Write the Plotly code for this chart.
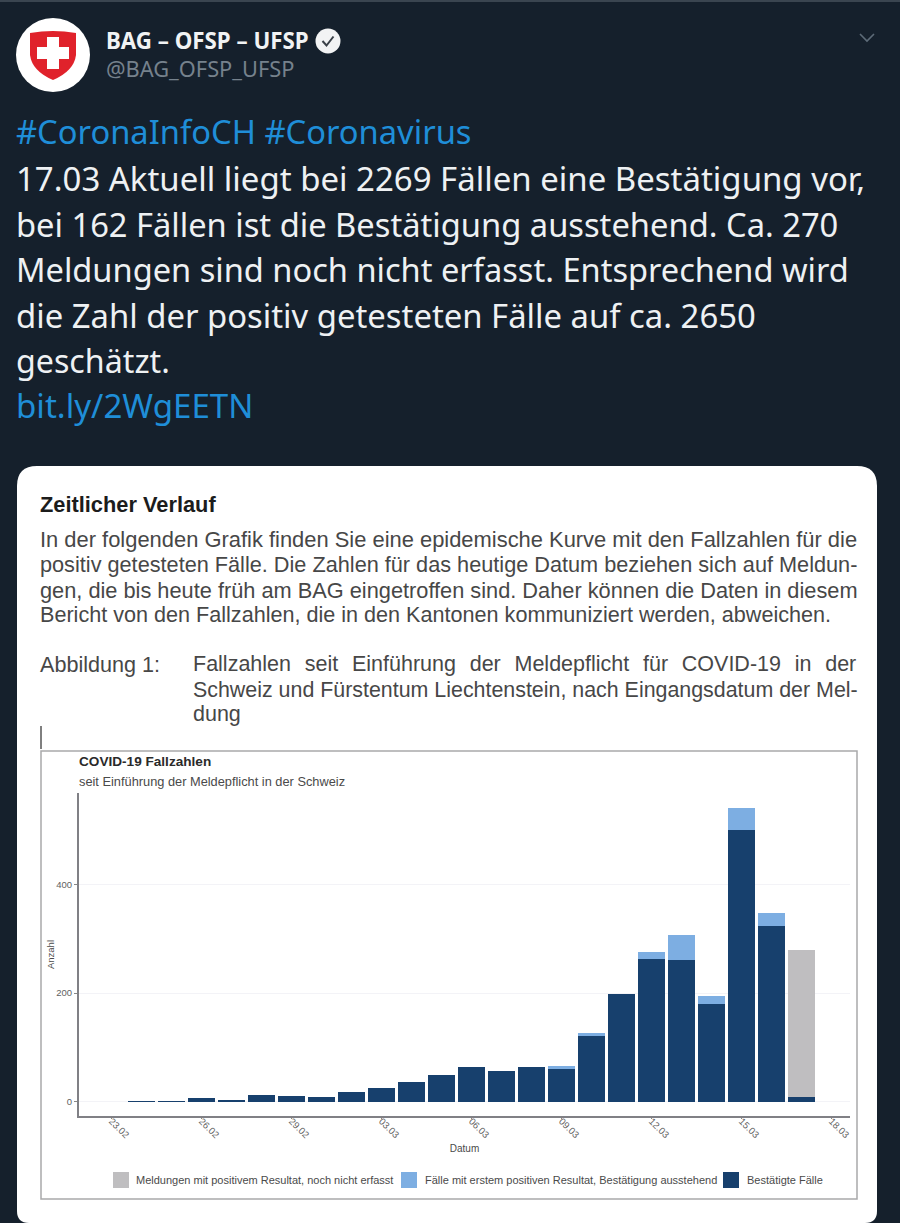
import plotly.graph_objects as go

W, H = 900, 1223

dates = ["2020-02-24","2020-02-25","2020-02-26","2020-02-27","2020-02-28","2020-02-29",
         "2020-03-01","2020-03-02","2020-03-03","2020-03-04","2020-03-05","2020-03-06",
         "2020-03-07","2020-03-08","2020-03-09","2020-03-10","2020-03-11","2020-03-12",
         "2020-03-13","2020-03-14","2020-03-15","2020-03-16","2020-03-17"]
confirmed = [1,1,6,4,13,11,8,17,26,36,49,64,57,63,60,120,198,263,261,179,500,323,9]
pending   = [0,0,0,0,0,0,0,0,0,0,0,0,0,0,6,6,0,12,46,16,40,25,0]
unrecorded= [0,0,0,0,0,0,0,0,0,0,0,0,0,0,0,0,0,0,0,0,0,0,270]
series_names = ["Bestätigte Fälle",
                "Fälle mit erstem positiven Resultat, Bestätigung ausstehend",
                "Meldungen mit positivem Resultat, noch nicht erfasst"]
y_ticks = [0, 200, 400]

tweet_lines = ["17.03 Aktuell liegt bei 2269 Fällen eine Bestätigung vor,",
               "bei 162 Fällen ist die Bestätigung ausstehend. Ca. 270",
               "Meldungen sind noch nicht erfasst. Entsprechend wird",
               "die Zahl der positiv getesteten Fälle auf ca. 2650",
               "geschätzt."]
body_lines = ["In der folgenden Grafik finden Sie eine epidemische Kurve mit den Fallzahlen für die",
              "positiv getesteten Fälle. Die Zahlen für das heutige Datum beziehen sich auf Meldun-",
              "gen, die bis heute früh am BAG eingetroffen sind. Daher können die Daten in diesem",
              "Bericht von den Fallzahlen, die in den Kantonen kommuniziert werden, abweichen."]
caption_lines = ["Fallzahlen  \u200aseit  \u200aEinführung  \u200ader  \u200aMeldepflicht  \u200afür  \u200aCOVID-19  \u200ain  \u200ader",
                 "Schweiz und Fürstentum Liechtenstein, nach Eingangsdatum der Mel-",
                 "dung"]

def X(x): return x / W
def Y(y): return 1 - y / H
def P(*pts):
    return "M" + " L".join(f"{X(a):.5f},{Y(b):.5f}" for a, b in pts)

DARK, BLUE, GREY = "#17406d", "#7daee2", "#bfbec0"
BG = "#15202c"
BAR_W = 0.89 * 86400000

fig = go.Figure()
for name, vals, col in zip(series_names, [confirmed, pending, unrecorded], [DARK, BLUE, GREY]):
    fig.add_bar(x=dates, y=vals, name=name, marker_color=col, marker_line_width=0, width=BAR_W, showlegend=False)

shapes = []
def rect(x0, y0, x1, y1, fill=None, line=None, lw=1):
    shapes.append(dict(type="rect", xref="paper", yref="paper", x0=X(x0), x1=X(x1), y0=Y(y1), y1=Y(y0),
                       fillcolor=fill, line=dict(color=line, width=lw) if line else dict(width=0), layer="below"))
def path(d, fill=None, line=None, lw=1):
    shapes.append(dict(type="path", xref="paper", yref="paper", path=d, fillcolor=fill,
                       line=dict(color=line, width=lw) if line else dict(width=0), layer="below"))
def circle(cx, cy, r, fill):
    shapes.append(dict(type="circle", xref="paper", yref="paper", x0=X(cx-r), x1=X(cx+r), y0=Y(cy+r), y1=Y(cy-r),
                       fillcolor=fill, line=dict(width=0), layer="below"))
def card(x0, y0, x1, y1, rt, rb):
    return (f"M{X(x0+rt)},{Y(y0)} L{X(x1-rt)},{Y(y0)} Q{X(x1)},{Y(y0)} {X(x1)},{Y(y0+rt)} "
            f"L{X(x1)},{Y(y1-rb)} Q{X(x1)},{Y(y1)} {X(x1-rb)},{Y(y1)} L{X(x0+rb)},{Y(y1)} "
            f"Q{X(x0)},{Y(y1)} {X(x0)},{Y(y1-rb)} L{X(x0)},{Y(y0+rt)} Q{X(x0)},{Y(y0)} {X(x0+rt)},{Y(y0)} Z")

rect(0, 0, W, 2, fill="#3a4550")
path(card(17, 466, 877, 1223, 20, 12), fill="white")
rect(41, 751, 857, 1199, line="#a9a9ab", lw=1.5)
path(P((41, 726), (41, 749)), line="#555555", lw=1.5)
# avatar
circle(53, 55, 37, "white")
path(f"M{X(30)},{Y(33)} Q{X(53)},{Y(29)} {X(76)},{Y(33)} L{X(76)},{Y(55)} Q{X(74)},{Y(71)} {X(53)},{Y(80)} "
     f"Q{X(32)},{Y(71)} {X(30)},{Y(55)} Z", fill="#e0222b")
rect(37, 47, 69, 59, fill="white")
rect(47, 37, 59, 69, fill="white")
# verified badge
circle(328, 41, 12.5, "#f2f3f4")
path(P((322.5, 41), (326.5, 45.5), (333.5, 36.5)), line="#3a4048", lw=2)
# chevron
path(P((860, 34), (867, 41), (874, 34)), line="#5d6b78", lw=1.6)
# legend keys
rect(113, 1172, 129, 1188, fill=GREY)
rect(401, 1172, 417, 1188, fill=BLUE)
rect(723, 1172, 739, 1188, fill=DARK)

anns = []
def text(x, y, s, size, color, family, anchor="left", bold=False, angle=0):
    anns.append(dict(xref="paper", yref="paper", x=X(x), y=Y(y), text=f"<b>{s}</b>" if bold else s,
                     showarrow=False, xanchor=anchor, yanchor="middle", borderpad=0, textangle=angle,
                     font=dict(size=size, color=color, family=family)))

TW = "Noto Sans"
AR = "Liberation Sans"
text(104.5, 40, "BAG – OFSP – UFSP", 22.3, "#f1f3f4", TW, bold=True)
text(104.5, 69, "@BAG_OFSP_UFSP", 21.8, "#76828d", TW)
text(14.5, 132, "#CoronaInfoCH #Coronavirus", 32.7, "#1f8ed8", TW)
for s, y, sz in zip(tweet_lines, [178, 224, 269, 315, 360], [32.96, 32.68, 32.6, 32.84, 32.2]):
    text(14.5, y, s, sz, "#eef1f3", TW)
text(14.5, 405, "bit.ly/2WgEETN", 33.1, "#1f8ed8", TW)

text(38.5, 504, "Zeitlicher Verlauf", 21.8, "#1c1c1c", AR, bold=True)
for s, y, sz in zip(body_lines, [539, 564, 590, 614], [21.92, 21.7, 21.78, 21.6]):
    text(38.5, y, s, sz, "#474747", AR)
text(38.5, 664, "Abbildung 1:", 21.6, "#474747", AR)
for s, y, sz in zip(caption_lines, [664, 690, 714], [21.5, 21.4, 21.5]):
    text(192, y, s, sz, "#474747", AR)

text(77.5, 762, "COVID-19 Fallzahlen", 13.6, "#2a2a2a", AR, bold=True)
text(77.5, 781, "seit Einführung der Meldepflicht in der Schweiz", 12.8, "#4a4a4a", AR)
text(134.5, 1180, series_names[2], 11, "#4a4a4a", AR)
text(423.5, 1180, series_names[1], 11, "#4a4a4a", AR)
text(745.5, 1180, series_names[0], 11, "#4a4a4a", AR)

fig.update_layout(
    width=W, height=H, autosize=False, margin=dict(l=0, r=0, t=0, b=0, autoexpand=False),
    paper_bgcolor=BG, plot_bgcolor="rgba(0,0,0,0)", barmode="stack", shapes=shapes, annotations=anns,
    font=dict(family=AR, color="#555555"),
    xaxis=dict(type="date", domain=[X(79), X(850)],
               range=["2020-02-21 21:50", "2020-03-18 14:38"],
               tick0="2020-02-23", dtick=3*86400000, tickformat="%d.%m", tickangle=45,
               tickfont=dict(size=9.5, color="#5f5f5f"), ticks="outside", ticklen=1, tickcolor="#888888",
               ticklabelstandoff=-7,
               showline=True, linecolor="#808085", linewidth=2, showgrid=False, zeroline=False,
               title=dict(text="Datum", font=dict(size=10, color="#4a4a4a"), standoff=6)),
    yaxis=dict(domain=[Y(1116), Y(793)], range=[-26.3, 568], tickvals=y_ticks,
               tickfont=dict(size=9.5, color="#5f5f5f"), ticks="outside", ticklen=3, tickcolor="#888888",
               showline=True, linecolor="#808085", linewidth=2, gridcolor="#f3f3f7", gridwidth=1, zeroline=False,
               title=dict(text="Anzahl", font=dict(size=9.5, color="#4a4a4a"), standoff=0)),
)
fig.write_html("out.html", config={"displayModeBar": False},
               post_script="document.body.style.margin='0';document.body.style.background='#15202c';")
